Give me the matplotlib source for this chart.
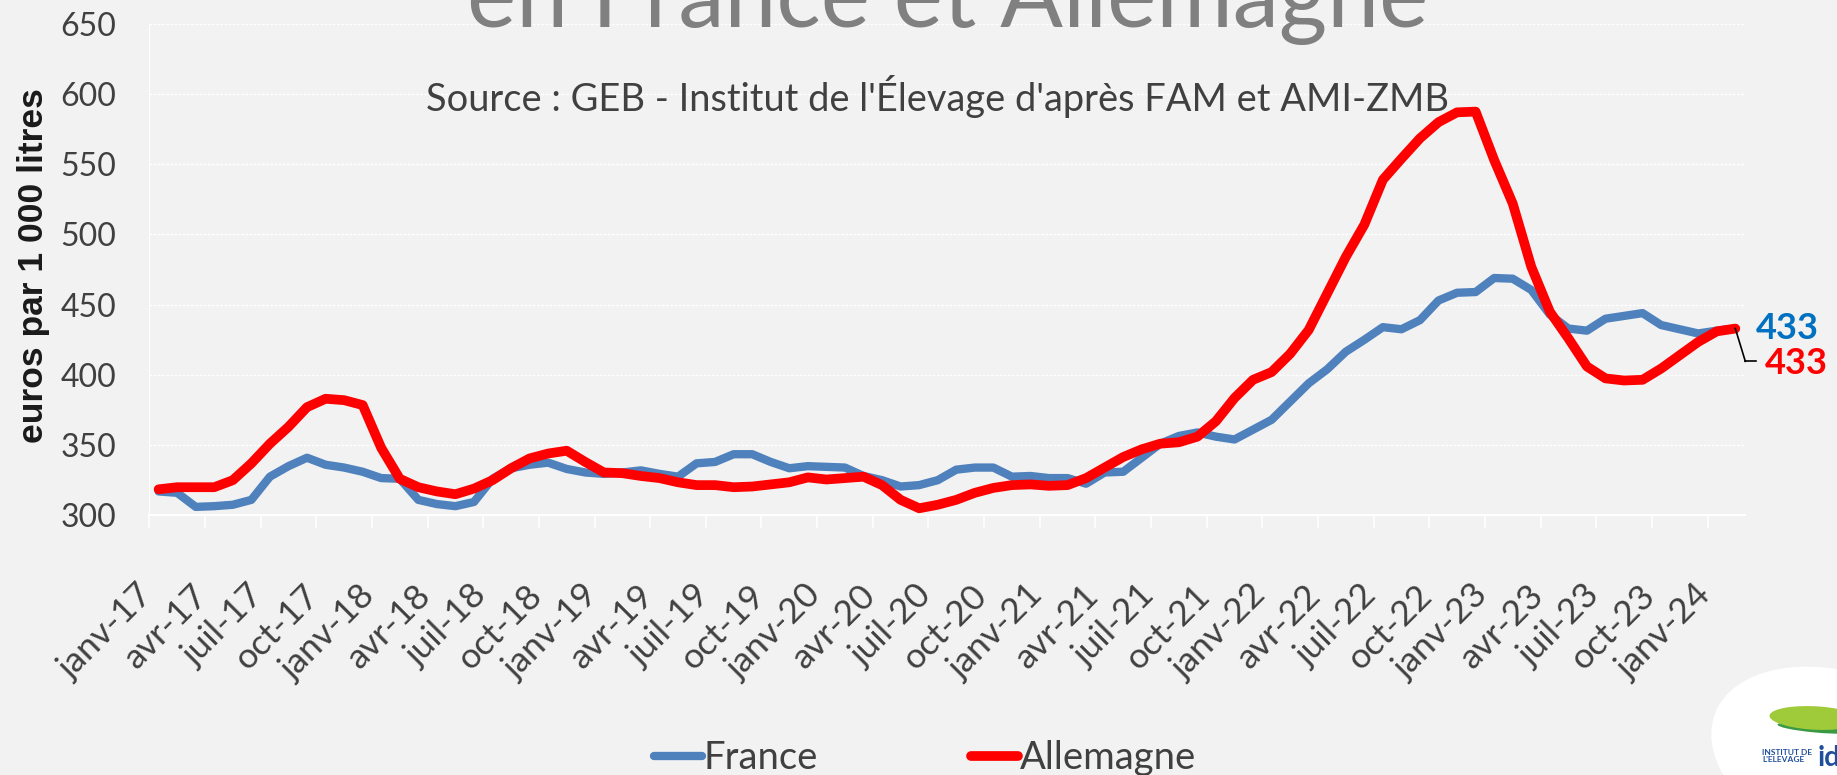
import matplotlib
matplotlib.use("Agg")
import matplotlib.pyplot as plt
import matplotlib.transforms as mtransforms
from matplotlib.patches import Ellipse
import numpy as np

plt.rcParams["font.family"] = ["Lato", "DejaVu Sans"]

BG = "#f2f2f2"
DARK = "#404040"
BLUE = "#4f81bd"
RED = "#ff0000"

# prix mensuel du lait, janv-17 -> fevr-24 (euros / 1 000 litres)
france = [317, 316, 306, 306.5, 307.5, 311, 327.5, 335, 341, 336, 334, 331,
          326.5, 326, 311, 308, 306.5, 309.5, 326, 333.5, 336, 337.5, 333, 330.5,
          329.5, 330.5, 332, 329.5, 327.5, 337, 338, 343.5, 343.5, 338, 333.5, 335,
          334.5, 334, 328, 325, 320.5, 321.5, 325, 332.5, 334, 334, 327.5, 328,
          326.5, 326.5, 322.5, 330.5, 331, 341, 351, 356.5, 359, 356, 354, 361,
          368, 381, 394, 404, 416.5, 425, 434, 432.5, 439, 453, 458.5, 459,
          469, 468.5, 460.5, 443, 433, 431.5, 440, 442, 444, 435.5, 432.5, 429.5,
          431.5, 433]
allemagne = [318.5, 320, 320, 320, 325, 337, 351, 363, 377, 383, 382, 378.5,
             348, 326, 320, 317, 315, 319, 325, 333.5, 340.5, 344, 346, 338,
             330.5, 330, 328, 326.5, 323.5, 321.5, 321.5, 320, 320.5, 322, 323.5, 327,
             325.5, 326.5, 327.5, 321.5, 311, 305, 307.5, 311, 316, 319.5, 321.5, 322,
             321, 321.5, 326.5, 334, 341.5, 347, 351, 352, 356, 367, 383.5, 396.5,
             402, 415, 432, 458, 484, 507, 539, 554, 568.5, 580, 587, 587.5,
             553, 522, 477, 445, 426, 406, 397.5, 396, 396.5, 404.5, 414, 423.5,
             431, 433]
tick_labels = ["janv-17", "avr-17", "juil-17", "oct-17",
               "janv-18", "avr-18", "juil-18", "oct-18",
               "janv-19", "avr-19", "juil-19", "oct-19",
               "janv-20", "avr-20", "juil-20", "oct-20",
               "janv-21", "avr-21", "juil-21", "oct-21",
               "janv-22", "avr-22", "juil-22", "oct-22",
               "janv-23", "avr-23", "juil-23", "oct-23",
               "janv-24"]
y_ticks = [300, 350, 400, 450, 500, 550, 600, 650]

x = np.arange(len(france))

fig = plt.figure(figsize=(18.37, 7.75), dpi=100, facecolor=BG)
ax = fig.add_axes([0.0813, 0.3351, 0.8684, 0.6341], facecolor=BG)

ax.plot(x, france, color=BLUE, lw=6, solid_joinstyle="round", solid_capstyle="round",
        label="France", zorder=3)
ax.plot(x, allemagne, color=RED, lw=7, solid_joinstyle="round", solid_capstyle="round",
        label="Allemagne", zorder=4)

ax.set_xlim(-0.5, len(france) - 0.5)
ax.set_ylim(300, 650)
ax.set_yticks(y_ticks)
ax.set_yticklabels([str(v) for v in y_ticks], fontsize=23, color=DARK)
ax.tick_params(axis="y", length=0, pad=24)

ax.set_xticks(np.arange(0, len(france), 3))
ax.set_xticklabels(tick_labels, rotation=45, ha="right", va="top",
                   fontsize=25.5, color=DARK)
ax.tick_params(axis="x", which="major", length=0, pad=46)
ax.set_xticks(np.arange(-0.5, len(france), 3), minor=True)
ax.tick_params(axis="x", which="minor", length=9, width=1.2, color="white")

ax.grid(axis="y", color="white", lw=1, linestyle=(0, (2, 1)))
ax.set_axisbelow(True)
for s in ["top", "right"]:
    ax.spines[s].set_visible(False)
ax.spines["left"].set_color("white")
ax.spines["bottom"].set_color("white")
ax.spines["bottom"].set_linewidth(1.5)

# dernieres valeurs
ax.annotate(f"{france[-1]:.0f}", xy=(x[-1], france[-1]), xytext=(15, 0),
            textcoords="offset points", ha="left", va="center",
            fontsize=26, fontweight="bold", color="#0070c0")
ax.annotate(f"{allemagne[-1]:.0f}", xy=(x[-1], allemagne[-1]), xytext=(21.5, -25),
            textcoords="offset points", ha="left", va="center",
            fontsize=26, fontweight="bold", color=RED)
pts = [(0, 0), (7.2, -23.6), (14.6, -23.6)]
for (x0, y0), (x1, y1) in zip(pts[:-1], pts[1:]):
    t0 = mtransforms.offset_copy(ax.transData, fig=fig, x=x0, y=y0, units="points")
    t1 = mtransforms.offset_copy(ax.transData, fig=fig, x=x1, y=y1, units="points")
    p0 = t0.transform((x[-1], allemagne[-1]))
    p1 = t1.transform((x[-1], allemagne[-1]))
    fig.add_artist(plt.Line2D([p0[0], p1[0]], [p0[1], p1[1]], transform=None,
                              color="black", lw=1.2, zorder=6))

fig.text(0.018, 1 - 266 / 775, "euros par 1 000 litres", rotation=90,
         ha="center", va="center", fontsize=25.5, fontweight="bold",
         color="#1a1a1a", family=["Liberation Sans", "DejaVu Sans"])

fig.text(0.516, 1 - 27 / 775, "en France et Allemagne", ha="center", va="baseline",
         fontsize=67, color="#808080")
fig.text(0.2320, 1 - 111 / 775, "Source : GEB - Institut de l'Élevage d'après FAM et AMI-ZMB",
         ha="left", va="baseline", fontsize=27.4, color=DARK)

fig.legend(loc="center", bbox_to_anchor=(0.5036, 1 - 758 / 775), ncol=2,
           frameon=False, fontsize=27.5, handlelength=1.25, handletextpad=0.05,
           columnspacing=4.0, labelcolor=DARK)

# logo
fig.add_artist(Ellipse((1850 / 1837, 1 - 765 / 775), 0.14, 0.26, angle=15,
                       transform=fig.transFigure, facecolor="white",
                       edgecolor="none", zorder=5))
fig.add_artist(Ellipse((1815 / 1837, 1 - 718 / 775), 0.05, 0.03, angle=-10,
                       transform=fig.transFigure, facecolor="#9fcb3b",
                       edgecolor="none", zorder=6))
fig.add_artist(Ellipse((1818 / 1837, 1 - 728 / 775), 0.045, 0.012, angle=-12,
                       transform=fig.transFigure, facecolor="#3a9a44",
                       edgecolor="none", zorder=5.5))
fig.text(1762 / 1837, 1 - 756 / 775, "INSTITUT DE\nL'ELEVAGE", ha="left", va="center",
         fontsize=6, fontweight="bold", color="#1f4e9c", linespacing=0.95, zorder=7)
fig.text(1818 / 1837, 1 - 758 / 775, "id", ha="left", va="center",
         fontsize=20, fontweight="bold", color="#1f4e9c", zorder=7)

fig.savefig("out.png", dpi=100, facecolor=BG)
